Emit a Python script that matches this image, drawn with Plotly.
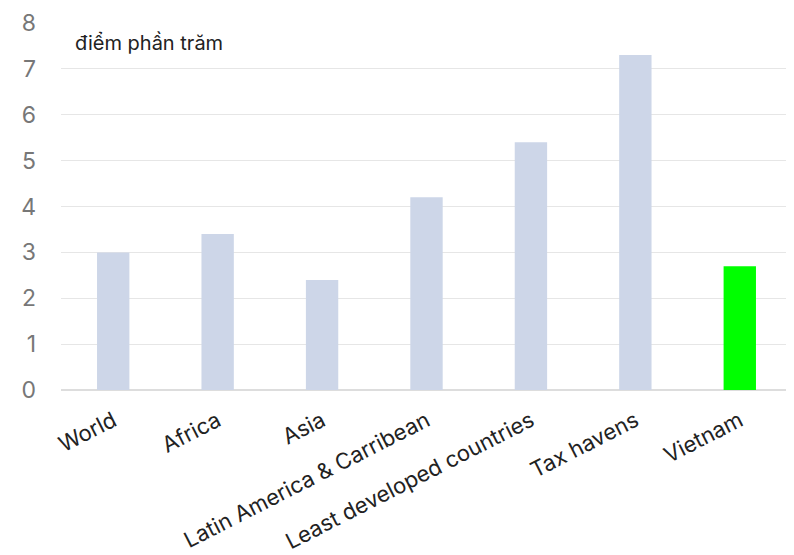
import plotly.graph_objects as go

categories = ["World", "Africa", "Asia", "Latin America & Carribean",
              "Least developed countries", "Tax havens", "Vietnam"]
values = [3.0, 3.4, 2.4, 4.2, 5.4, 7.3, 2.7]
bar_colors = ["#CDD6E8"] * 6 + ["#00FF00"]
y_ticks = [0, 1, 2, 3, 4, 5, 6, 7, 8]

fig = go.Figure(go.Bar(x=categories, y=values, marker_color=bar_colors,
                       marker_line_width=0, width=0.31))

fig.update_layout(
    width=794, height=547,
    margin=dict(l=53, r=10, t=15, b=165, autoexpand=False),
    plot_bgcolor="white", paper_bgcolor="white",
    font=dict(family="Inter, Open Sans, sans-serif", color="#222"),
    showlegend=False,
    annotations=[dict(text="điểm phần trăm", xref="paper", yref="paper",
                      x=0.017, y=0.945, xanchor="left", yanchor="middle",
                      showarrow=False, font=dict(size=20, color="#222"))],
)
fig.update_yaxes(range=[0, 8], tickvals=y_ticks, showgrid=True,
                 gridcolor="#E6E6E6", gridwidth=1, zeroline=True,
                 zerolinecolor="#DDDDDD", zerolinewidth=2,
                 tickfont=dict(size=23, color="#777"), ticks="",
                 ticklabelstandoff=24, automargin=False)
fig.update_xaxes(tickangle=-27, tickfont=dict(size=22, color="#222"),
                 showgrid=False, ticks="", ticklabelstandoff=13,
                 automargin=False)

fig.write_html("out.html")
